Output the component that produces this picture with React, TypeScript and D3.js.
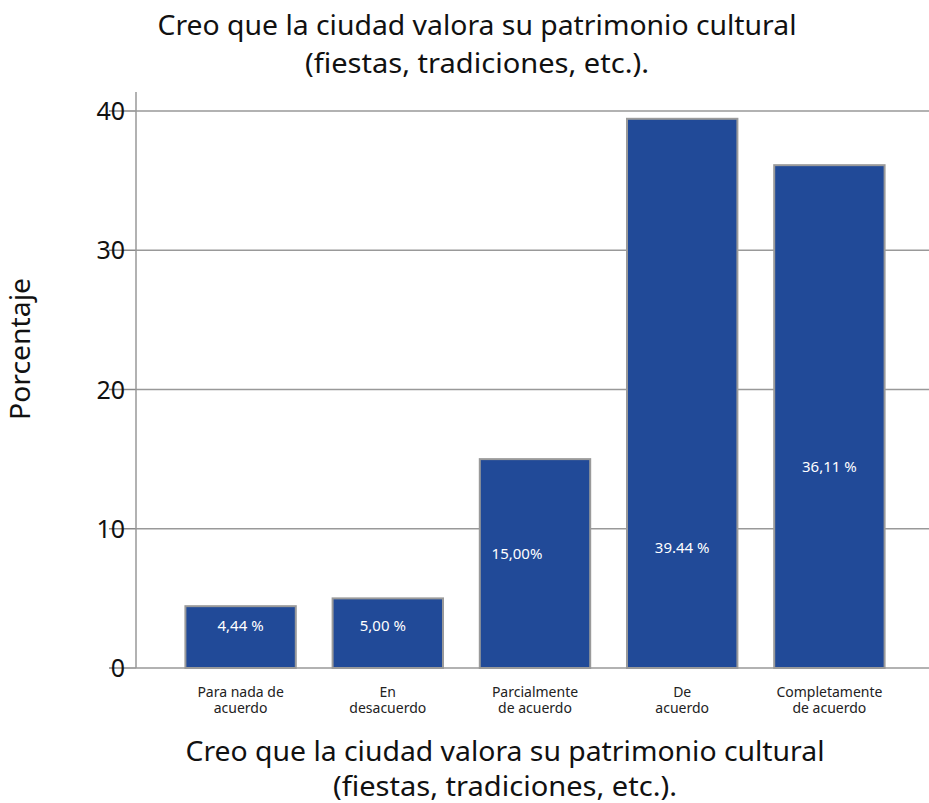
import React from "react";
import * as d3 from "d3";

const categories = ["Para nada de acuerdo", "En desacuerdo", "Parcialmente de acuerdo", "De acuerdo", "Completamente de acuerdo"];
const categoryLines = [["Para nada de", "acuerdo"], ["En", "desacuerdo"], ["Parcialmente", "de acuerdo"], ["De", "acuerdo"], ["Completamente", "de acuerdo"]];
const values = [4.44, 5.0, 15.0, 39.44, 36.11];
const valueLabels = ["4,44 %", "5,00 %", "15,00%", "39.44 %", "36,11 %"];
const labelAt = [3.0, 3.0, 8.2, 8.6, 14.4];
const labelShift = [0, -5, -18, 0, 0];
const yTicks = [0, 10, 20, 30, 40];
const titleLines = ["Creo que la ciudad valora su patrimonio cultural", "(fiestas, tradiciones, etc.)."];
const titleWidths = [639, 344];

const W = 929, H = 803;
const FONT = "'Noto Sans', sans-serif";

export default function App() {
  const x = d3.scaleBand<string>().domain(categories).range([167, 903]).paddingInner(0.25).paddingOuter(0.125);
  const y = d3.scaleLinear().domain([0, 40]).range([668, 111]);
  const axisX = 136;
  return (
    <svg width={W} height={H} style={{ position: "absolute", left: 0, top: 0, background: "#fff" }} fontFamily={FONT}>
      {titleLines.map((t, i) => (
        <text key={"t" + i} x={477} y={35 + i * 38} textAnchor="middle" fontSize={27} fill="#111" textLength={titleWidths[i]} lengthAdjust="spacingAndGlyphs">{t}</text>
      ))}
      {yTicks.map((t) => (
        <g key={"g" + t}>
          {t > 0 && <line x1={axisX} x2={W} y1={y(t)} y2={y(t)} stroke="#999" strokeWidth={1.5} />}
          <line x1={109} x2={axisX} y1={y(t)} y2={y(t)} stroke="#888" strokeWidth={1.5} />
          <text x={125} y={y(t) + 9} textAnchor="end" fontSize={25} fill="#111">{t}</text>
        </g>
      ))}
      <line x1={axisX} x2={W} y1={y(0)} y2={y(0)} stroke="#999" strokeWidth={1.5} />
      <line x1={axisX} x2={axisX} y1={92} y2={y(0)} stroke="#999" strokeWidth={1.5} />
      {categories.map((c, i) => (
        <rect key={"b" + i} x={x(c)!} y={y(values[i])} width={x.bandwidth()} height={y(0) - y(values[i])} fill="#214a98" stroke="#9a9a9a" strokeWidth={2} />
      ))}
      {categories.map((c, i) => (
        <text key={"l" + i} x={x(c)! + x.bandwidth() / 2 + labelShift[i]} y={y(labelAt[i]) + 5} textAnchor="middle" fontSize={15} fill="#fff">{valueLabels[i]}</text>
      ))}
      {categories.map((c, i) => (
        <text key={"c" + i} x={x(c)! + x.bandwidth() / 2} y={697} textAnchor="middle" fontSize={14} fill="#222">
          {categoryLines[i].map((ln, j) => (
            <tspan key={j} x={x(c)! + x.bandwidth() / 2} dy={j === 0 ? 0 : 16}>{ln}</tspan>
          ))}
        </text>
      ))}
      <text transform={`translate(30,349) rotate(-90)`} textAnchor="middle" fontSize={27} fill="#111" textLength={142} lengthAdjust="spacingAndGlyphs">Porcentaje</text>
      {titleLines.map((t, i) => (
        <text key={"x" + i} x={505} y={761 + i * 35} textAnchor="middle" fontSize={27} fill="#111" textLength={titleWidths[i]} lengthAdjust="spacingAndGlyphs">{t}</text>
      ))}
    </svg>
  );
}
